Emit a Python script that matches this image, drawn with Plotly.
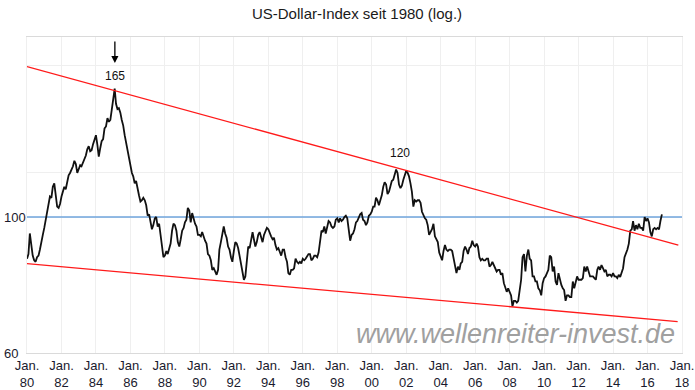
import numpy as np
import pandas as pd
import plotly.graph_objects as go

# ---------------- data ----------------
start_month = "1980-01-01"
dxy_values = [
    # 1980
    85.5, 87.0, 94.0, 90.5, 86.5, 85.0, 84.5, 86.0, 86.5, 88.5, 90.5, 93.5,
    # 1981
    96.0, 99.0, 101.5, 104.0, 108.0, 107.5, 112.0, 113.5, 108.5, 104.0, 103.5, 105.0,
    # 1982
    108.0, 110.5, 112.0, 111.0, 113.5, 117.0, 118.0, 119.5, 121.0, 123.5, 122.0, 118.0,
    # 1983
    120.0, 121.5, 121.0, 122.5, 124.5, 126.0, 129.0, 130.5, 128.0, 128.5, 131.5, 133.5,
    # 1984
    136.0, 131.0, 125.5, 129.5, 133.0, 134.0, 139.5, 140.5, 145.0, 143.0, 144.0, 149.5,
    # 1985
    156.0, 162.0, 153.0, 150.0, 150.5, 148.0, 144.0, 141.0, 136.0, 132.0, 128.0, 125.0,
    # 1986
    121.0, 118.0, 116.5, 113.5, 114.5, 112.0, 108.5, 106.0, 106.5, 107.5, 106.5, 104.5,
    # 1987
    100.5, 101.0, 98.5, 95.5, 97.0, 99.5, 100.0, 96.5, 97.5, 93.0, 88.5, 86.0,
    # 1988
    86.5, 88.0, 87.0, 88.5, 90.5, 95.0, 97.5, 97.0, 95.0, 91.0, 89.5, 92.0,
    # 1989
    95.0, 96.0, 98.0, 99.0, 103.5, 102.5, 98.0, 101.5, 99.0, 97.5, 96.5, 93.5,
    # 1990
    93.5, 93.0, 94.5, 92.5, 91.5, 90.5, 87.0, 86.5, 85.0, 82.0, 82.5, 81.5,
    # 1991
    80.5, 82.0, 88.5, 91.0, 93.5, 96.5, 94.0, 92.5, 89.5, 88.5, 86.0, 84.5,
    # 1992
    88.0, 91.0, 90.5, 89.0, 86.5, 84.0, 81.5, 79.0, 80.0, 85.5, 89.5, 89.0,
    # 1993
    92.0, 94.5, 92.0, 89.5, 91.0, 93.5, 94.5, 93.0, 91.0, 93.5, 95.0, 96.0,
    # 1994
    95.5, 94.0, 93.0, 92.0, 92.5, 90.0, 88.5, 89.0, 88.0, 86.5, 88.5, 88.5,
    # 1995
    86.0, 84.5, 81.0, 80.5, 82.0, 82.0, 82.5, 85.5, 84.5, 84.0, 84.5, 84.0,
    # 1996
    85.5, 85.0, 85.5, 86.5, 87.0, 87.0, 85.0, 85.5, 86.5, 86.5, 86.0, 87.5,
    # 1997
    92.0, 95.0, 94.5, 96.5, 94.0, 96.0, 98.5, 98.0, 96.5, 96.0, 96.5, 99.0,
    # 1998
    99.5, 98.0, 99.5, 98.5, 99.0, 100.0, 100.5, 99.5, 95.0, 91.5, 93.5, 94.0,
    # 1999
    95.5, 98.0, 98.5, 100.0, 101.0, 101.5, 99.0, 98.5, 97.0, 98.0, 100.5, 101.0,
    # 2000
    102.0, 104.0, 104.0, 107.5, 106.5, 104.5, 106.5, 108.5, 112.0, 114.0, 113.0, 109.0,
    # 2001
    110.0, 112.0, 114.5, 115.0, 117.5, 119.5, 118.0, 113.0, 111.5, 112.5, 115.0, 117.0,
    # 2002
    119.0, 118.0, 116.5, 113.5, 110.0, 104.0, 106.5, 106.0, 106.5, 106.5, 105.5, 102.0,
    # 2003
    100.5, 99.5, 99.0, 97.0, 93.5, 94.5, 95.5, 97.5, 93.0, 92.0, 91.0, 87.5,
    # 2004
    86.5, 85.0, 88.0, 90.0, 88.5, 88.0, 88.5, 88.5, 88.0, 85.5, 82.5, 81.0,
    # 2005
    83.0, 82.0, 84.0, 84.5, 88.0, 89.5, 88.5, 87.0, 89.0, 89.5, 91.5, 90.0,
    # 2006
    89.5, 90.5, 89.5, 86.0, 85.0, 85.5, 85.0, 85.0, 85.5, 85.5, 83.0, 83.5,
    # 2007
    84.5, 83.5, 83.0, 81.5, 82.0, 82.0, 80.5, 81.0, 78.0, 76.5, 75.5, 76.5,
    # 2008
    75.5, 74.5, 71.5, 73.0, 73.0, 72.5, 73.0, 77.0, 79.0, 86.0, 87.0, 81.5,
    # 2009
    86.5, 88.5, 85.5, 85.0, 80.0, 80.0, 78.5, 78.5, 76.5, 76.0, 74.5, 78.0,
    # 2010
    79.5, 80.0, 81.0, 82.0, 86.5, 86.0, 81.5, 83.0, 78.5, 77.5, 81.0, 79.0,
    # 2011
    77.5, 76.5, 76.0, 73.0, 74.5, 74.5, 74.0, 74.0, 78.5, 76.5, 78.5, 80.0,
    # 2012
    79.0, 79.0, 79.0, 79.5, 83.0, 81.5, 83.0, 81.5, 80.0, 80.0, 80.0, 79.5,
    # 2013
    79.0, 82.0, 83.0, 82.0, 83.5, 82.5, 81.5, 82.0, 80.0, 80.5, 80.5, 80.0,
    # 2014
    81.0, 80.0, 80.0, 79.5, 80.5, 79.8, 81.5, 82.5, 86.0, 87.0, 88.5, 90.5,
    # 2015
    95.0, 95.5, 98.5, 95.0, 97.0, 95.5, 97.5, 96.0, 96.0, 95.0, 100.0, 98.5,
    # 2016
    99.5, 98.0, 94.5, 93.0, 95.5, 96.0, 95.5, 96.0, 95.5, 98.5, 101.0,
]

upper_trend_dates = ["1980-01-01", "2017-10-15"]
upper_trend_values = [176.0, 90.0]
lower_trend_dates = ["1979-11-20", "2017-10-01"]
lower_trend_values = [84.0, 67.5]
level_dates = ["1980-01-01", "2018-01-01"]
level_values = [100, 100]

x_tick_dates = [f"{y}-01-01" for y in range(1980, 2019, 2)]
x_tick_labels = [f"Jan.<br>{str(y)[2:]}" for y in range(1980, 2019, 2)]
y_grid_values = [60, 100, 118.4, 177]
y_label_values = [60, 100]
y_label_texts = ["60", "100"]

peak_labels = ["165", "120"]
peak_label_dates = ["1985-02-05", "2001-08-15"]
peak_label_values = [170, 127]

title_text = "US-Dollar-Index seit 1980 (log.)"
watermark_text = "www.wellenreiter-invest.de"

# ---------------- figure ----------------
dates = pd.date_range(start_month, periods=len(dxy_values), freq="MS")

fig = go.Figure()
fig.add_trace(go.Scatter(x=level_dates, y=level_values, mode="lines",
                         line=dict(color="#6FA5DC", width=1.6), hoverinfo="skip"))
fig.add_trace(go.Scatter(x=dates, y=dxy_values, mode="lines",
                         line=dict(color="#111111", width=1.8)))
fig.add_trace(go.Scatter(x=upper_trend_dates, y=upper_trend_values, mode="lines",
                         line=dict(color="#FF1A1A", width=1.3), cliponaxis=False))
fig.add_trace(go.Scatter(x=lower_trend_dates, y=lower_trend_values, mode="lines",
                         line=dict(color="#FF1A1A", width=1.3), cliponaxis=False))

annotations = []
for t, v in zip(y_label_texts, y_label_values):
    annotations.append(dict(xref="paper", yref="y", x=-25 / 655, y=np.log10(v),
                            text=t, showarrow=False, xanchor="left", yanchor="middle",
                            font=dict(family="Liberation Sans, Arial, sans-serif",
                                      size=13, color="#1a1a2e")))
for t, d, v in zip(peak_labels, peak_label_dates, peak_label_values):
    annotations.append(dict(x=d, y=np.log10(v), text=t, showarrow=False,
                            xanchor="center", yanchor="middle",
                            font=dict(family="Liberation Sans, Arial, sans-serif",
                                      size=12, color="#111111")))
# arrow pointing at the 1985 peak
annotations.append(dict(x="1985-02-05", y=np.log10(178.3), text="", showarrow=True,
                        ax=0, ay=-23, arrowhead=2, arrowsize=1.1, arrowwidth=1.3,
                        arrowcolor="#000000"))
# watermark
annotations.append(dict(xref="paper", yref="paper", x=(515 - 27) / 655, y=(353 - 334) / 316,
                        text=watermark_text, showarrow=False, xanchor="center",
                        yanchor="middle",
                        font=dict(family="Liberation Sans, Arial, sans-serif", size=27,
                                  color="#a0a0a0", style="italic")))

fig.update_layout(
    width=695, height=390,
    template="none",
    showlegend=False,
    paper_bgcolor="white",
    plot_bgcolor="white",
    margin=dict(l=27, r=13, t=37, b=37, autoexpand=False),
    title=dict(text=title_text, x=357 / 695, xanchor="center", y=1 - 14 / 390,
               yanchor="middle",
               font=dict(family="Liberation Sans Narrow, Arial Narrow, Liberation Sans, sans-serif",
                         size=15, color="#1a1a1a")),
    xaxis=dict(type="date", range=["1980-01-01", "2018-01-01"],
               tickmode="array", tickvals=x_tick_dates, ticktext=x_tick_labels,
               showgrid=True, gridcolor="#EFEFEF", gridwidth=1,
               showline=True, linecolor="#DADADA", linewidth=1, mirror=True,
               ticks="", zeroline=False, automargin=False,
               tickfont=dict(family="Liberation Sans, Arial, sans-serif", size=13,
                             color="#1a1a2e")),
    yaxis=dict(type="log", range=[np.log10(60), 2.2937],
               tickmode="array", tickvals=y_grid_values, showticklabels=False,
               showgrid=True, gridcolor="#EFEFEF", gridwidth=1,
               showline=True, linecolor="#EFEFEF", mirror=True,
               ticks="", zeroline=False, automargin=False),
    annotations=annotations,
)

fig.write_html("out.html", config={"displayModeBar": False},
               post_script="document.body.style.margin='0';document.body.style.overflow='hidden';")
